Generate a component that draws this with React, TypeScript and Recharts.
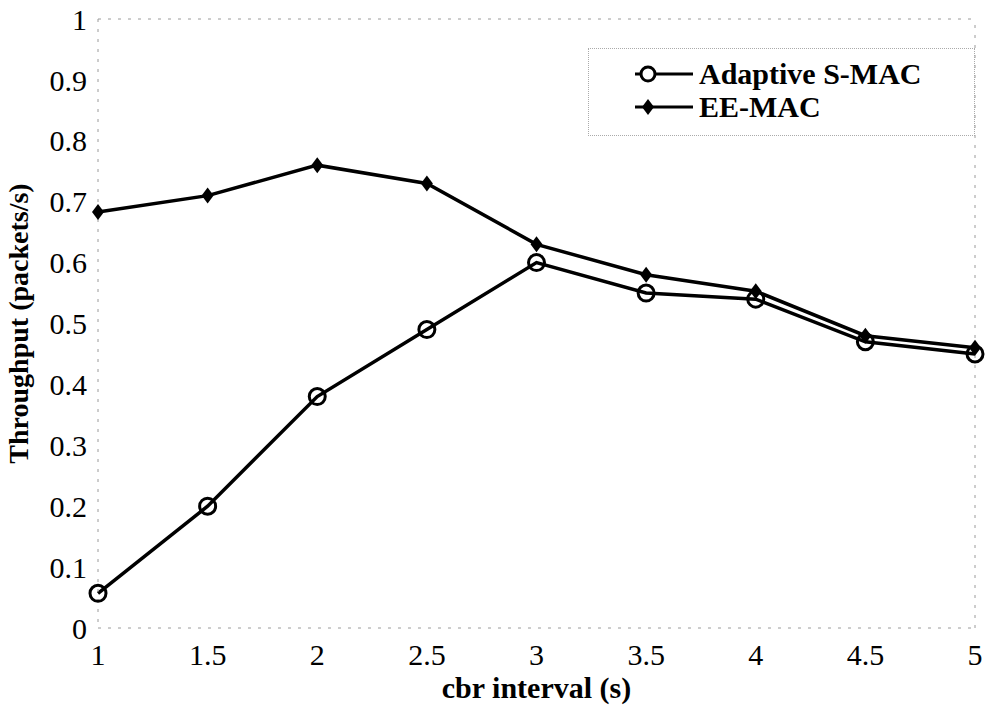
import { Legend, Line, LineChart, ReferenceLine, XAxis, YAxis } from 'recharts';

const intervals = [1, 1.5, 2, 2.5, 3, 3.5, 4, 4.5, 5];
const adaptiveSmac = [0.057, 0.2, 0.38, 0.49, 0.6, 0.55, 0.54, 0.47, 0.45];
const eeMac = [0.683, 0.71, 0.76, 0.73, 0.63, 0.58, 0.553, 0.48, 0.46];
const xTicks = [1, 1.5, 2, 2.5, 3, 3.5, 4, 4.5, 5];
const yTicks = [0, 0.1, 0.2, 0.3, 0.4, 0.5, 0.6, 0.7, 0.8, 0.9, 1];

const data = intervals.map((x, i) => ({
  x,
  adaptive: adaptiveSmac[i],
  ee: eeMac[i],
}));

const FONT = '"Liberation Serif", "Times New Roman", serif';
const faint = { stroke: '#9a9a9a', strokeDasharray: '3 7', strokeWidth: 1 };

const OpenCircle = (props: { cx?: number; cy?: number; index?: number }) => (
  <circle
    key={`c-${props.index}`}
    cx={props.cx}
    cy={props.cy}
    r={8}
    fill="none"
    stroke="#000"
    strokeWidth={3}
  />
);

const Diamond = (props: { cx?: number; cy?: number; index?: number }) => {
  const { cx = 0, cy = 0 } = props;
  return (
    <polygon
      key={`d-${props.index}`}
      points={`${cx},${cy - 8} ${cx + 6},${cy} ${cx},${cy + 8} ${cx - 6},${cy}`}
      fill="#000"
    />
  );
};

const legendItems = [
  { name: 'Adaptive S-MAC', marker: 'circle' },
  { name: 'EE-MAC', marker: 'diamond' },
];

const renderLegend = () => (
  <div
    style={{
      fontFamily: FONT,
      fontWeight: 'bold',
      fontSize: 30,
      color: '#000',
      paddingTop: 8,
    }}
  >
    {legendItems.map((item) => (
      <div
        key={item.name}
        style={{ display: 'flex', alignItems: 'center', height: 33 }}
      >
        <svg width={60} height={24} style={{ marginLeft: 46, marginRight: 4 }}>
          <line x1={0} y1={12} x2={58} y2={12} stroke="#000" strokeWidth={3} />
          {item.marker === 'circle' ? (
            <circle cx={13} cy={12} r={7} fill="#fff" stroke="#000" strokeWidth={3} />
          ) : (
            <polygon points="13,4 19,12 13,20 7,12" fill="#000" />
          )}
        </svg>
        <span>{item.name}</span>
      </div>
    ))}
  </div>
);

export default function App() {
  return (
    <div style={{ position: 'absolute', left: 0, top: 0, background: '#fff' }}>
      <LineChart
        width={986}
        height={705}
        data={data}
        margin={{ top: 19, right: 11, bottom: 17, left: 0 }}
      >
        <XAxis
          dataKey="x"
          type="number"
          domain={[1, 5]}
          ticks={xTicks}
          height={60}
          axisLine={faint}
          tickLine={false}
          tickMargin={10}
          tick={{ fontFamily: FONT, fontSize: 30, fill: '#000' }}
          label={{
            value: 'cbr interval (s)',
            position: 'insideBottom',
            offset: -10,
            style: { fontFamily: FONT, fontSize: 30, fontWeight: 'bold', fill: '#000' },
          }}
        />
        <YAxis
          type="number"
          domain={[0, 1]}
          ticks={yTicks}
          width={98}
          axisLine={faint}
          tickLine={false}
          tickMargin={5}
          tick={{ fontFamily: FONT, fontSize: 30, fill: '#000' }}
          label={{
            value: 'Throughput (packets/s)',
            angle: -90,
            position: 'insideLeft',
            offset: 18,
            style: {
              fontFamily: FONT,
              fontSize: 28,
              fontWeight: 'bold',
              fill: '#000',
              textAnchor: 'middle',
            },
          }}
        />
        <ReferenceLine y={1} {...faint} />
        <ReferenceLine x={5} {...faint} />
        <Legend
          content={renderLegend}
          layout="vertical"
          align="center"
          verticalAlign="middle"
          wrapperStyle={{
            top: 48,
            left: 588,
            width: 387,
            height: 88,
            border: '1px dotted #aaa',
            boxSizing: 'border-box',
          }}
        />
        <Line
          dataKey="adaptive"
          name="Adaptive S-MAC"
          stroke="#000"
          strokeWidth={3.5}
          dot={OpenCircle}
          isAnimationActive={false}
        />
        <Line
          dataKey="ee"
          name="EE-MAC"
          stroke="#000"
          strokeWidth={3.5}
          dot={Diamond}
          isAnimationActive={false}
        />
      </LineChart>
    </div>
  );
}
